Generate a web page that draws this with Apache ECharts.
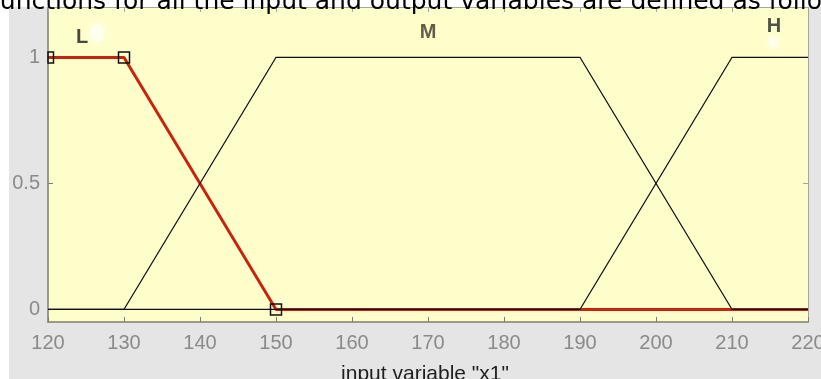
<!DOCTYPE html>
<html>
<head>
<meta charset="utf-8">
<style>
  html, body { margin: 0; padding: 0; background: #ffffff; }
  #chart { width: 821px; height: 379px; }
</style>
<script src="https://cdn.jsdelivr.net/npm/echarts@6/dist/echarts.min.js"></script>
</head>
<body>
<div id="chart"></div>
<script>
// Membership functions of input variable "x1" (trapezoids), as [x, mu] breakpoints
const mfNames = ['L', 'M', 'H'];
const mfL = [[120, 1], [130, 1], [150, 0], [220, 0]];
const mfM = [[120, 0], [130, 0], [150, 1], [190, 1], [210, 0], [220, 0]];
const mfH = [[120, 0], [190, 0], [210, 1], [220, 1]];
// Vertices of the selected function (L) shown with square handles
const handlePts = [[120, 1], [130, 1], [150, 0]];
// Axis ticks
const xRange = [120, 220];
const xStep = 10;
const yTicks = [0, 0.5, 1];
const yRange = [-0.05, 1.2];

const mfs = [mfL, mfM, mfH];

// Name of each function sits above the middle of its plateau
function plateauMid(pts) {
  const top = pts.filter(p => p[1] === 1).map(p => p[0]);
  return (Math.min(...top) + Math.max(...top)) / 2;
}
const labelOffsets = { L: [-4, -20], M: [0, -25], H: [4, -31] };
const labelColors = { L: '#1a1a1a', M: '#3a3526', H: '#262626' };
const nameData = mfNames.map((n, i) => ({
  value: [plateauMid(mfs[i]), 1],
  name: n,
  label: { offset: labelOffsets[n], color: labelColors[n] }
}));

const chart = echarts.init(document.getElementById('chart'), null, { renderer: 'canvas' });

const frameDark = '#7d7d6c';
const frameLight = '#a6a69c';
const tickText = '#8a8a8a';

chart.setOption({
  animation: false,
  backgroundColor: '#e5e5e5',
  grid: {
    left: 48, right: 13, top: 7, bottom: 57,
    outerBoundsMode: 'none', containLabel: false,
    show: true, backgroundColor: '#fefecb', borderWidth: 0
  },
  xAxis: [
    {
      type: 'value', min: xRange[0], max: xRange[1], interval: xStep, position: 'bottom',
      axisLine: { show: true, onZero: false, lineStyle: { color: frameDark, width: 1.5 } },
      axisTick: { show: true, inside: true, length: 5, lineStyle: { color: frameDark } },
      axisLabel: { color: tickText, fontSize: 20, fontFamily: 'Liberation Sans, Arial, sans-serif', margin: 11 },
      splitLine: { show: false }
    },
    {
      type: 'value', min: xRange[0], max: xRange[1], interval: xStep, position: 'top',
      axisLine: { show: true, onZero: false, lineStyle: { color: frameLight, width: 1 } },
      axisTick: { show: true, inside: true, length: 5, lineStyle: { color: frameLight } },
      axisLabel: { show: false },
      splitLine: { show: false }
    }
  ],
  yAxis: [
    {
      type: 'value', min: yRange[0], max: yRange[1], position: 'left',
      axisLine: { show: true, onZero: false, lineStyle: { color: frameDark, width: 1.5 } },
      axisTick: { show: true, inside: true, length: 5, customValues: yTicks, lineStyle: { color: frameDark } },
      axisLabel: { customValues: yTicks, color: tickText, fontSize: 20, fontFamily: 'Liberation Sans, Arial, sans-serif', margin: 8 },
      splitLine: { show: false }
    },
    {
      type: 'value', min: yRange[0], max: yRange[1], position: 'right',
      axisLine: { show: true, onZero: false, lineStyle: { color: frameLight, width: 1 } },
      axisTick: { show: true, inside: true, length: 5, customValues: yTicks, lineStyle: { color: frameLight } },
      axisLabel: { show: false },
      splitLine: { show: false }
    }
  ],
  series: [
    {
      name: 'L', type: 'line', data: mfL, symbol: 'none', z: 2,
      lineStyle: { color: '#c8230f', width: 3 }
    },
    {
      name: 'M', type: 'line', data: mfM, symbol: 'none', z: 3,
      lineStyle: { color: '#111111', width: 1.1 }
    },
    {
      name: 'H', type: 'line', data: mfH, symbol: 'none', z: 3,
      lineStyle: { color: '#111111', width: 1.1 }
    },
    {
      // square vertex handles, clipped to the plot frame
      type: 'custom', z: 4, data: handlePts,
      renderItem: function (params, api) {
        const p = api.coord([api.value(0), api.value(1)]);
        const s = 11;
        const cs = params.coordSys;
        const r = echarts.graphic.clipRectByRect(
          { x: p[0] - s / 2, y: p[1] - s / 2, width: s, height: s },
          { x: cs.x, y: cs.y, width: cs.width, height: cs.height }
        );
        if (!r) return null;
        return { type: 'rect', shape: r, style: { fill: 'none', stroke: '#111111', lineWidth: 1.5 } };
      }
    },
    {
      type: 'scatter', symbolSize: 0, z: 5, data: nameData,
      label: {
        show: true, position: 'inside', formatter: '{b}',
        fontSize: 20, fontWeight: 'bold', fontFamily: 'Liberation Sans, Arial, sans-serif'
      }
    }
  ],
  graphic: [
    { type: 'rect', left: 0, top: 0, shape: { width: 821, height: 7 }, style: { fill: '#ffffff' }, z: 1 },
    { type: 'rect', left: 0, top: 0, shape: { width: 9, height: 379 }, style: { fill: '#ffffff' }, z: 1 },
    // soft light patches beside the function names
    { type: 'rect', left: 90, top: 24, shape: { width: 14, height: 18, r: 7 },
      style: { fill: 'rgba(255,255,255,0.55)', shadowBlur: 12, shadowColor: 'rgba(255,255,255,1)' }, z: 1 },
    { type: 'rect', left: 768, top: 36, shape: { width: 10, height: 12, r: 5 },
      style: { fill: 'rgba(255,255,255,0.5)', shadowBlur: 10, shadowColor: 'rgba(255,255,255,1)' }, z: 1 },
    {
      type: 'text', x: -9, y: 2, z: 10,
      style: {
        text: 'functions for all the input and output variables are defined as follows:',
        font: '25px "DejaVu Sans", sans-serif', fill: '#000000',
        textAlign: 'left', textVerticalAlign: 'middle'
      }
    },
    {
      type: 'text', x: 425, y: 374, z: 10,
      style: {
        text: 'input variable "x1"',
        font: '21px "Liberation Sans", Arial, sans-serif', fill: '#1e1e1e',
        textAlign: 'center', textVerticalAlign: 'middle'
      }
    }
  ]
});
</script>
</body>
</html>
